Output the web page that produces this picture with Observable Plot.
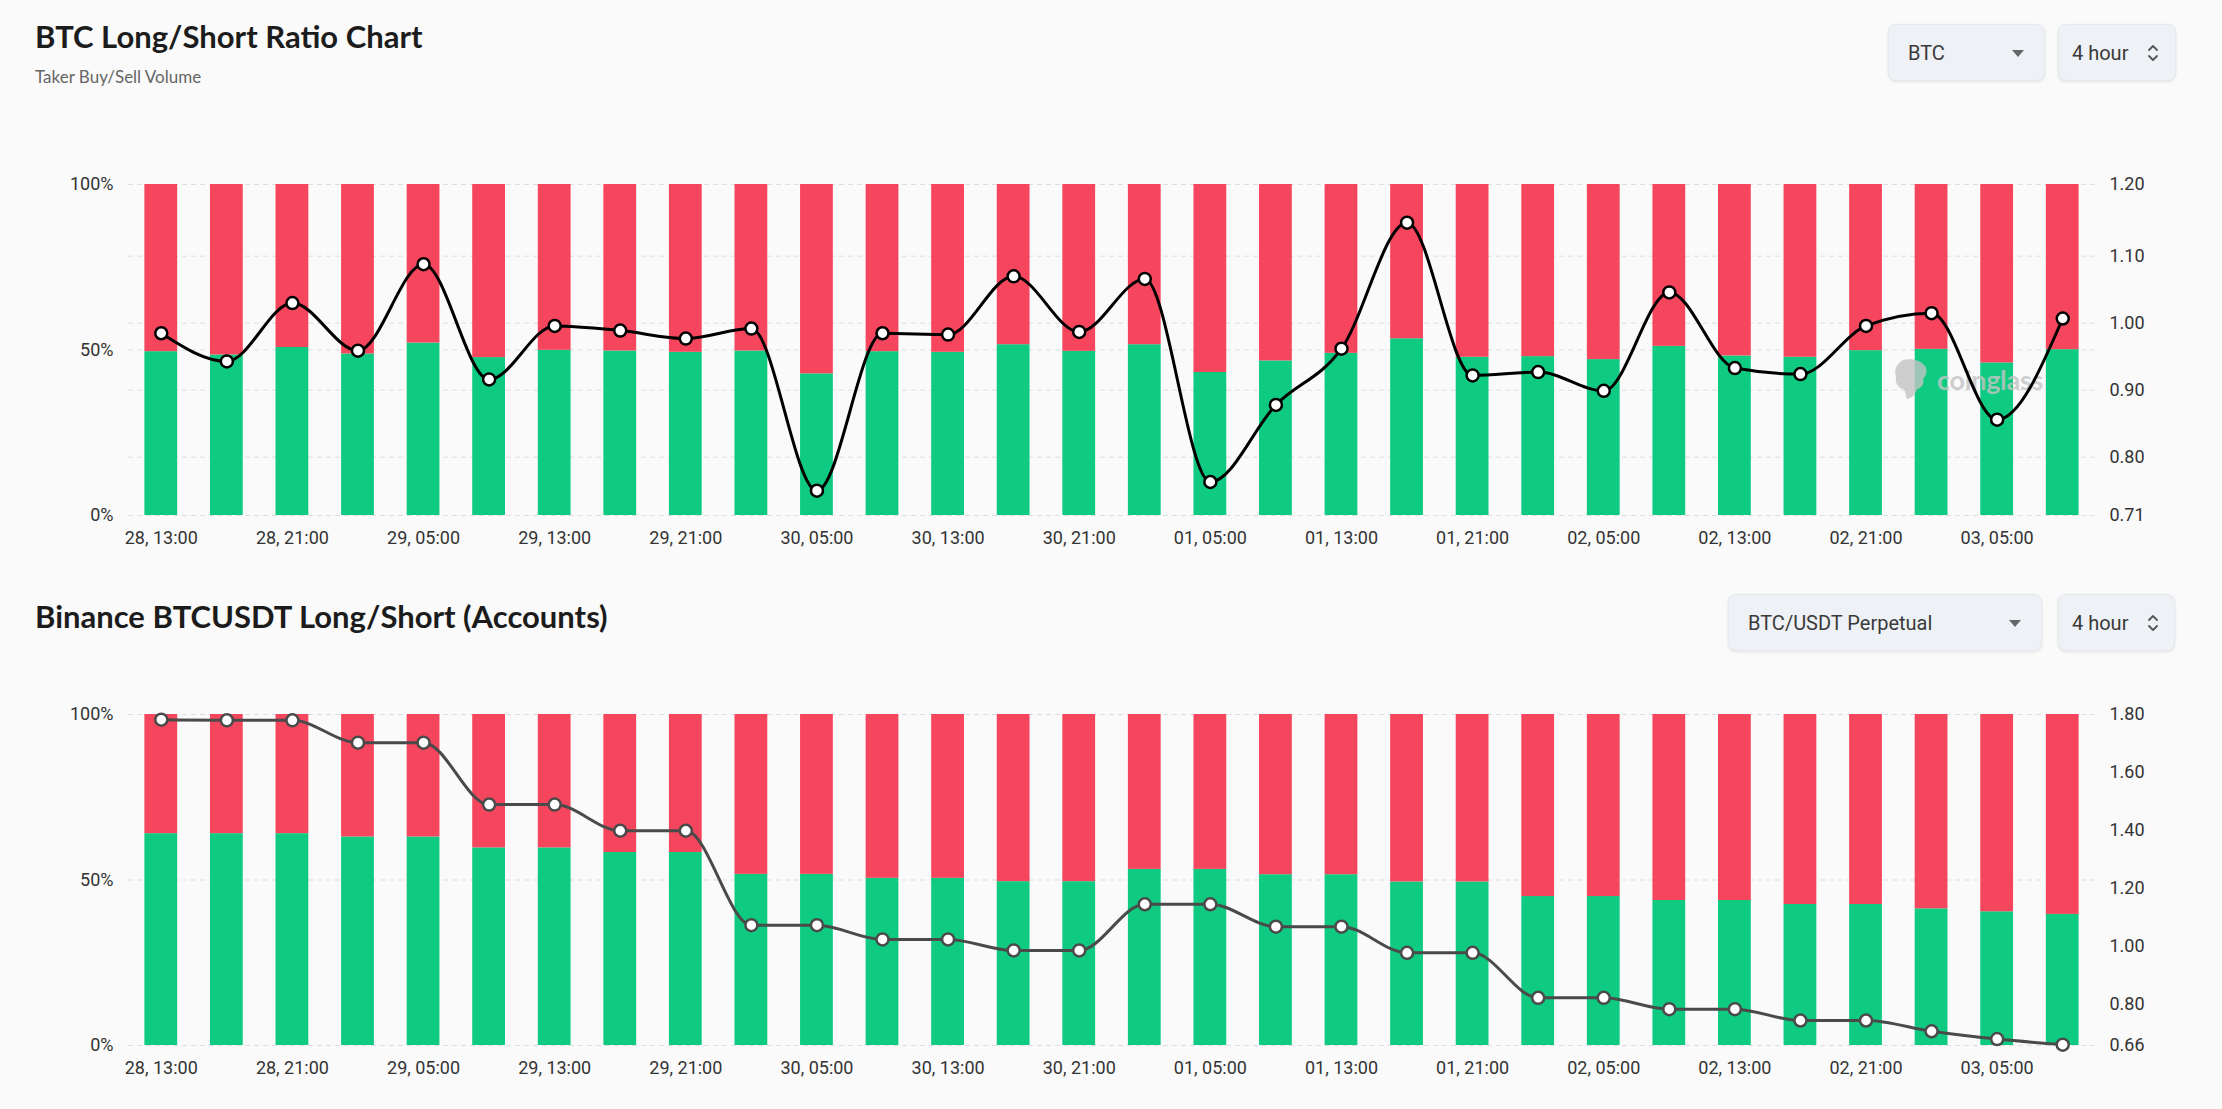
<!DOCTYPE html>
<html>
<head>
<meta charset="utf-8">
<script src="https://cdn.jsdelivr.net/npm/d3@7"></script>
<script src="https://cdn.jsdelivr.net/npm/@observablehq/plot@0.6"></script>
<style>
  html, body { margin: 0; padding: 0; background: #fafafa; width: 2222px; height: 1109px; overflow: hidden; font-family: Roboto, "Noto Sans", sans-serif; }
  .title { position: absolute; font-family: Lato, "Noto Sans", sans-serif; font-weight: 700; font-size: 31px; line-height: 31px; color: #1c1c1c; white-space: nowrap; }
  .sub { position: absolute; font-family: Lato, "Noto Sans", sans-serif; font-size: 17px; line-height: 17px; color: #666; white-space: nowrap; }
  .btn { position: absolute; height: 57px; box-sizing: border-box; background: #eef1f5; border: 1px solid #e6e9ee; border-radius: 8px; box-shadow: 0 1px 3px rgba(0,0,0,0.10); font-family: Roboto, "Noto Sans", sans-serif; font-size: 20px; color: #3a3a3a; white-space: nowrap; }
  .btn span { position: absolute; top: 50%; transform: translateY(-50%); }
  .btn svg { position: absolute; }
  .layer { position: absolute; left: 0; width: 2222px; height: 410px; }
  .layer > svg { position: absolute; left: 0; top: 0; max-width: none !important; width: 2222px; height: 410px; }
  .wm { position: absolute; display: flex; align-items: center; gap: 8px; opacity: 0.8; pointer-events: none; }
  .wm span { font-family: Lato, "Noto Sans", sans-serif; font-weight: 700; font-size: 27px; color: #c4c4c4; letter-spacing: -0.3px; }
</style>
</head>
<body>
<div class="title" style="left:35px; top:21px;">BTC Long/Short Ratio Chart</div>
<div class="sub" style="left:35px; top:68px;">Taker Buy/Sell Volume</div>
<div class="btn" style="left:1888px; top:24px; width:157px;"><span style="left:19px;">BTC</span>
  <svg width="12" height="7" style="left:123px; top:25px;"><path d="M0,0 L12,0 L6,7 Z" fill="#666"/></svg></div>
<div class="btn" style="left:2058px; top:24px; width:118px;"><span style="left:13px;">4 hour</span>
  <svg width="12" height="20" style="left:88px; top:18px;"><path d="M2,7 L6,3 L10,7 M2,13 L6,17 L10,13" fill="none" stroke="#555" stroke-width="1.8" stroke-linecap="round" stroke-linejoin="round"/></svg></div>

<div class="title" style="left:35px; top:601px;">Binance BTCUSDT Long/Short (Accounts)</div>
<div class="btn" style="left:1728px; top:594px; width:314px;"><span style="left:19px;">BTC/USDT Perpetual</span>
  <svg width="12" height="7" style="left:280px; top:25px;"><path d="M0,0 L12,0 L6,7 Z" fill="#666"/></svg></div>
<div class="btn" style="left:2058px; top:594px; width:117px;"><span style="left:13px;">4 hour</span>
  <svg width="12" height="20" style="left:88px; top:18px;"><path d="M2,7 L6,3 L10,7 M2,13 L6,17 L10,13" fill="none" stroke="#555" stroke-width="1.8" stroke-linecap="round" stroke-linejoin="round"/></svg></div>

<div id="chart1" class="layer" style="top:150px;"></div>
<div id="chart2" class="layer" style="top:680px;"></div>

<script>
// ---------- data ----------
const times = [
  "28, 13:00","28, 17:00","28, 21:00","29, 01:00","29, 05:00","29, 09:00",
  "29, 13:00","29, 17:00","29, 21:00","30, 01:00","30, 05:00","30, 09:00",
  "30, 13:00","30, 17:00","30, 21:00","01, 01:00","01, 05:00","01, 09:00",
  "01, 13:00","01, 17:00","01, 21:00","02, 01:00","02, 05:00","02, 09:00",
  "02, 13:00","02, 17:00","02, 21:00","03, 01:00","03, 05:00","03, 09:00"
];
const xTickLabels = [
  "28, 13:00","28, 21:00","29, 05:00","29, 13:00","29, 21:00","30, 05:00","30, 13:00",
  "30, 21:00","01, 05:00","01, 13:00","01, 21:00","02, 05:00","02, 13:00","02, 21:00","03, 05:00"
];

// Chart 1: taker buy/sell volume
const btcLongPct = [49.5, 48.5, 50.75, 48.8, 52.1, 47.7, 49.9, 49.7, 49.3, 49.7,
                    42.8, 49.5, 49.3, 51.6, 49.6, 51.6, 43.2, 46.7, 49.0, 53.4,
                    47.8, 48.0, 47.1, 51.1, 48.2, 47.8, 49.8, 50.2, 46.1, 50.1];
const btcRatio = [0.985, 0.943, 1.030, 0.959, 1.088, 0.916, 0.996, 0.989, 0.977, 0.992,
                  0.750, 0.985, 0.983, 1.070, 0.987, 1.066, 0.763, 0.878, 0.962, 1.150,
                  0.922, 0.927, 0.899, 1.046, 0.933, 0.924, 0.996, 1.015, 0.856, 1.007];
const btcRatioDomain = [0.713, 1.207];
const btcRatioTicks = [0.713, 0.8, 0.9, 1.0, 1.1, 1.207];
const btcRatioTickLabels = ["0.71", "0.80", "0.90", "1.00", "1.10", "1.20"];

// Chart 2: Binance accounts
const binLongPct = [64.0, 64.0, 64.0, 63.0, 63.0, 59.7, 59.7, 58.3, 58.3, 51.7,
                    51.7, 50.5, 50.5, 49.5, 49.5, 53.2, 53.2, 51.6, 51.6, 49.4,
                    49.4, 45.0, 45.0, 43.8, 43.8, 42.6, 42.6, 41.3, 40.4, 39.6];
const binRatio = [1.780, 1.778, 1.778, 1.701, 1.701, 1.488, 1.488, 1.398, 1.398, 1.073,
                  1.073, 1.024, 1.024, 0.986, 0.986, 1.145, 1.145, 1.068, 1.068, 0.978,
                  0.978, 0.823, 0.823, 0.784, 0.784, 0.745, 0.745, 0.708, 0.681, 0.662];
const binRatioDomain = [0.659, 1.798];
const binRatioTicks = [0.659, 0.8, 1.0, 1.2, 1.4, 1.6, 1.798];
const binRatioTickLabels = ["0.66", "0.80", "1.00", "1.20", "1.40", "1.60", "1.80"];

const pctTicks = [0, 50, 100];
const pctTickLabels = ["0%", "50%", "100%"];
const sides = ["Long", "Short"];

// ---------- drawing ----------
const GREEN = "#0ecb81", RED = "#f6465d";
const GRID = {stroke: "#dedede", strokeOpacity: 1, strokeDasharray: "5,4", strokeWidth: 1};

function common() {
  return {
    width: 2222, height: 410,
    marginTop: 34, marginBottom: 45, marginLeft: 128, marginRight: 127,
    style: {background: "transparent", fontFamily: "Roboto, 'Noto Sans', sans-serif", fontSize: "18px", color: "#333", overflow: "visible", maxWidth: "none"},
    x: {type: "band", domain: times, paddingInner: 0.5, paddingOuter: 0.25, round: false, axis: null, label: null}
  };
}

function layer(el, svg, z) {
  svg.style.zIndex = z;
  el.appendChild(svg);
}

function drawChart(el, longPct, ratio, rDomain, rTicks, rLabels, ratioGrid, lineColor, watermark) {
  const rMap = new Map(rTicks.map((t, i) => [t, rLabels[i]]));
  const pMap = new Map(pctTicks.map((t, i) => [t, pctTickLabels[i]]));
  const rows = [];
  times.forEach((t, i) => {
    rows.push({time: t, side: sides[0], value: longPct[i]});
    rows.push({time: t, side: sides[1], value: 100 - longPct[i]});
  });
  const pts = times.map((t, i) => ({time: t, ratio: ratio[i]}));

  const a = Plot.plot({
    ...common(),
    y: {domain: rDomain, axis: null, label: null},
    marks: [
      ratioGrid ? Plot.gridY(rTicks, GRID) : null,
      Plot.axisY(rTicks, {anchor: "right", tickSize: 0, tickPadding: 14, label: null, tickFormat: d => rMap.get(d)})
    ]
  });
  const b = Plot.plot({
    ...common(),
    y: {domain: [0, 100], axis: null, label: null},
    color: {domain: sides, range: [GREEN, RED]},
    marks: [
      Plot.gridY(pctTicks, GRID),
      Plot.barY(rows, {x: "time", y: "value", fill: "side"}),
      Plot.axisY(pctTicks, {anchor: "left", tickSize: 0, tickPadding: 15, label: null, tickFormat: d => pMap.get(d)}),
      Plot.axisX(xTickLabels, {anchor: "bottom", tickSize: 0, tickPadding: 16, label: null})
    ]
  });
  const c = Plot.plot({
    ...common(),
    y: {domain: rDomain, axis: null, label: null},
    marks: [
      Plot.line(pts, {x: "time", y: "ratio", curve: "monotone-x", stroke: lineColor, strokeWidth: 3}),
      Plot.dot(pts, {x: "time", y: "ratio", r: 6, fill: "white", stroke: lineColor, strokeWidth: 2.5})
    ]
  });
  layer(el, a, 1);
  layer(el, b, 2);
  if (watermark) {
    const wm = document.createElement("div");
    wm.className = "wm";
    wm.style.left = "1893px"; wm.style.top = "208px"; wm.style.zIndex = 3;
    wm.innerHTML = '<svg width="36" height="42" viewBox="0 0 36 42"><path d="M10,2 C18,0 28,2 32,8 C35,13 33,18 30,21 C32,26 28,30 24,31 C23,35 20,40 14,41 C12,37 13,33 10,31 C5,30 2,25 3,19 C1,13 3,6 10,2 Z" fill="#c4c4c4"/></svg><span>coinglass</span>';
    el.appendChild(wm);
  }
  layer(el, c, 4);
}

drawChart(document.getElementById("chart1"), btcLongPct, btcRatio, btcRatioDomain, btcRatioTicks, btcRatioTickLabels, true, "#000", true);
drawChart(document.getElementById("chart2"), binLongPct, binRatio, binRatioDomain, binRatioTicks, binRatioTickLabels, false, "#4a4a4a", false);
</script>
</body>
</html>
